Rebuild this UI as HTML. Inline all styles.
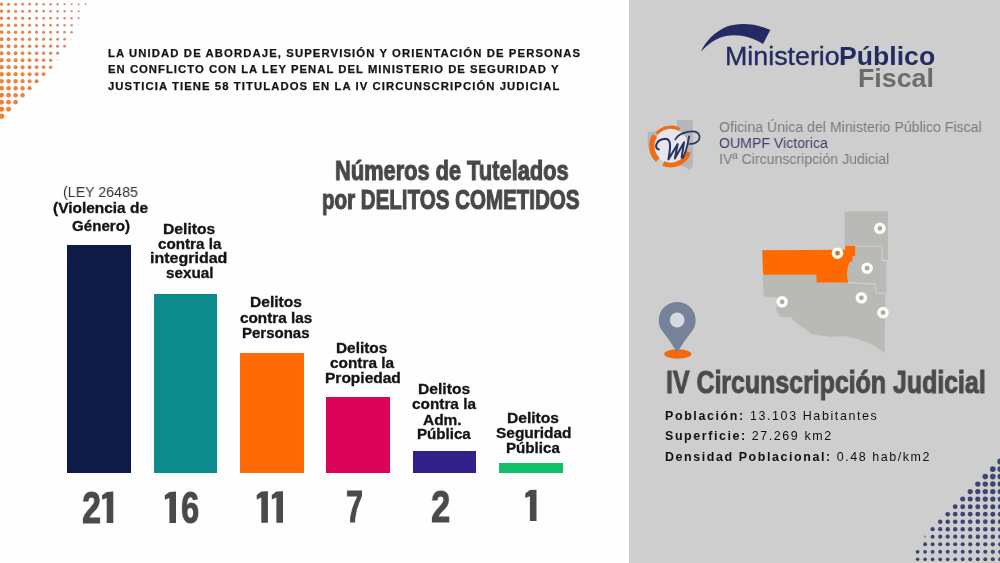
<!DOCTYPE html>
<html lang="es"><head><meta charset="utf-8"><title>Tutelados por delitos cometidos</title>
<style>
html,body{margin:0;padding:0}
body{width:1000px;height:563px;position:relative;overflow:hidden;background:#fefefe;font-family:"Liberation Sans",sans-serif}
.panel{position:absolute;left:628.5px;top:0;width:371.5px;height:563px;background:#cecece}
.bar{position:absolute}
.t{position:absolute;white-space:nowrap;line-height:1;transform-origin:0 0;will-change:transform;font-family:"Liberation Sans",sans-serif}
svg{position:absolute;left:0;top:0}
</style></head><body>
<div class="panel"></div>
<svg width="1000" height="563" viewBox="0 0 1000 563">
<g id="dots-tl">
<circle cx="1.6" cy="4.2" r="1.62" fill="rgb(230, 134, 74)" opacity="1.0"/>
<circle cx="8.6" cy="4.2" r="1.57" fill="rgb(229, 134, 79)" opacity="1.0"/>
<circle cx="15.6" cy="4.2" r="1.51" fill="rgb(227, 135, 84)" opacity="1.0"/>
<circle cx="22.6" cy="4.2" r="1.46" fill="rgb(226, 136, 89)" opacity="1.0"/>
<circle cx="29.6" cy="4.2" r="1.40" fill="rgb(224, 136, 94)" opacity="1.0"/>
<circle cx="36.6" cy="4.2" r="1.34" fill="rgb(223, 137, 98)" opacity="1.0"/>
<circle cx="43.6" cy="4.2" r="1.29" fill="rgb(222, 137, 103)" opacity="1.0"/>
<circle cx="50.6" cy="4.2" r="1.23" fill="rgb(220, 138, 108)" opacity="1.0"/>
<circle cx="57.6" cy="4.2" r="1.18" fill="rgb(219, 139, 113)" opacity="1.0"/>
<circle cx="64.6" cy="4.2" r="1.12" fill="rgb(217, 139, 118)" opacity="1.0"/>
<circle cx="71.6" cy="4.2" r="1.06" fill="rgb(216, 140, 122)" opacity="1.0"/>
<circle cx="78.6" cy="4.2" r="1.01" fill="rgb(216, 140, 122)" opacity="1.0"/>
<circle cx="85.6" cy="4.2" r="0.95" fill="rgb(216, 140, 122)" opacity="1.0"/>
<circle cx="1.6" cy="11.2" r="1.68" fill="rgb(231, 133, 73)" opacity="1.0"/>
<circle cx="8.6" cy="11.2" r="1.63" fill="rgb(229, 134, 77)" opacity="1.0"/>
<circle cx="15.6" cy="11.2" r="1.57" fill="rgb(228, 135, 82)" opacity="1.0"/>
<circle cx="22.6" cy="11.2" r="1.52" fill="rgb(226, 135, 87)" opacity="1.0"/>
<circle cx="29.6" cy="11.2" r="1.46" fill="rgb(225, 136, 92)" opacity="1.0"/>
<circle cx="36.6" cy="11.2" r="1.40" fill="rgb(223, 137, 97)" opacity="1.0"/>
<circle cx="43.6" cy="11.2" r="1.35" fill="rgb(222, 137, 102)" opacity="1.0"/>
<circle cx="50.6" cy="11.2" r="1.29" fill="rgb(221, 138, 107)" opacity="1.0"/>
<circle cx="57.6" cy="11.2" r="1.24" fill="rgb(219, 139, 112)" opacity="1.0"/>
<circle cx="64.6" cy="11.2" r="1.18" fill="rgb(218, 139, 116)" opacity="1.0"/>
<circle cx="71.6" cy="11.2" r="1.12" fill="rgb(216, 140, 121)" opacity="1.0"/>
<circle cx="78.6" cy="11.2" r="1.07" fill="rgb(216, 140, 122)" opacity="1.0"/>
<circle cx="85.6" cy="11.2" r="0.56" fill="rgb(216, 140, 122)" opacity="0.35"/>
<circle cx="1.6" cy="18.2" r="1.74" fill="rgb(231, 133, 71)" opacity="1.0"/>
<circle cx="8.6" cy="18.2" r="1.69" fill="rgb(230, 134, 76)" opacity="1.0"/>
<circle cx="15.6" cy="18.2" r="1.63" fill="rgb(228, 134, 81)" opacity="1.0"/>
<circle cx="22.6" cy="18.2" r="1.58" fill="rgb(227, 135, 86)" opacity="1.0"/>
<circle cx="29.6" cy="18.2" r="1.52" fill="rgb(225, 136, 90)" opacity="1.0"/>
<circle cx="36.6" cy="18.2" r="1.46" fill="rgb(224, 136, 95)" opacity="1.0"/>
<circle cx="43.6" cy="18.2" r="1.41" fill="rgb(222, 137, 100)" opacity="1.0"/>
<circle cx="50.6" cy="18.2" r="1.35" fill="rgb(221, 138, 105)" opacity="1.0"/>
<circle cx="57.6" cy="18.2" r="1.30" fill="rgb(220, 138, 110)" opacity="1.0"/>
<circle cx="64.6" cy="18.2" r="1.24" fill="rgb(218, 139, 115)" opacity="1.0"/>
<circle cx="71.6" cy="18.2" r="1.18" fill="rgb(217, 140, 120)" opacity="1.0"/>
<circle cx="78.6" cy="18.2" r="1.13" fill="rgb(216, 140, 122)" opacity="1.0"/>
<circle cx="1.6" cy="25.2" r="1.80" fill="rgb(232, 133, 69)" opacity="1.0"/>
<circle cx="8.6" cy="25.2" r="1.75" fill="rgb(230, 134, 74)" opacity="1.0"/>
<circle cx="15.6" cy="25.2" r="1.69" fill="rgb(229, 134, 79)" opacity="1.0"/>
<circle cx="22.6" cy="25.2" r="1.64" fill="rgb(227, 135, 84)" opacity="1.0"/>
<circle cx="29.6" cy="25.2" r="1.58" fill="rgb(226, 136, 89)" opacity="1.0"/>
<circle cx="36.6" cy="25.2" r="1.52" fill="rgb(224, 136, 94)" opacity="1.0"/>
<circle cx="43.6" cy="25.2" r="1.47" fill="rgb(223, 137, 99)" opacity="1.0"/>
<circle cx="50.6" cy="25.2" r="1.41" fill="rgb(221, 138, 104)" opacity="1.0"/>
<circle cx="57.6" cy="25.2" r="1.36" fill="rgb(220, 138, 108)" opacity="1.0"/>
<circle cx="64.6" cy="25.2" r="1.30" fill="rgb(219, 139, 113)" opacity="1.0"/>
<circle cx="71.6" cy="25.2" r="1.24" fill="rgb(217, 139, 118)" opacity="1.0"/>
<circle cx="78.6" cy="25.2" r="0.65" fill="rgb(216, 140, 122)" opacity="0.35"/>
<circle cx="1.6" cy="32.2" r="1.86" fill="rgb(232, 133, 68)" opacity="1.0"/>
<circle cx="8.6" cy="32.2" r="1.81" fill="rgb(231, 133, 73)" opacity="1.0"/>
<circle cx="15.6" cy="32.2" r="1.75" fill="rgb(229, 134, 78)" opacity="1.0"/>
<circle cx="22.6" cy="32.2" r="1.70" fill="rgb(228, 135, 82)" opacity="1.0"/>
<circle cx="29.6" cy="32.2" r="1.64" fill="rgb(226, 135, 87)" opacity="1.0"/>
<circle cx="36.6" cy="32.2" r="1.58" fill="rgb(225, 136, 92)" opacity="1.0"/>
<circle cx="43.6" cy="32.2" r="1.53" fill="rgb(223, 137, 97)" opacity="1.0"/>
<circle cx="50.6" cy="32.2" r="1.47" fill="rgb(222, 137, 102)" opacity="1.0"/>
<circle cx="57.6" cy="32.2" r="1.42" fill="rgb(221, 138, 107)" opacity="1.0"/>
<circle cx="64.6" cy="32.2" r="1.36" fill="rgb(219, 139, 112)" opacity="1.0"/>
<circle cx="71.6" cy="32.2" r="1.30" fill="rgb(218, 139, 117)" opacity="1.0"/>
<circle cx="1.6" cy="39.2" r="1.93" fill="rgb(233, 132, 66)" opacity="1.0"/>
<circle cx="8.6" cy="39.2" r="1.87" fill="rgb(231, 133, 71)" opacity="1.0"/>
<circle cx="15.6" cy="39.2" r="1.81" fill="rgb(230, 134, 76)" opacity="1.0"/>
<circle cx="22.6" cy="39.2" r="1.76" fill="rgb(228, 134, 81)" opacity="1.0"/>
<circle cx="29.6" cy="39.2" r="1.70" fill="rgb(227, 135, 86)" opacity="1.0"/>
<circle cx="36.6" cy="39.2" r="1.65" fill="rgb(225, 136, 91)" opacity="1.0"/>
<circle cx="43.6" cy="39.2" r="1.59" fill="rgb(224, 136, 96)" opacity="1.0"/>
<circle cx="50.6" cy="39.2" r="1.53" fill="rgb(222, 137, 100)" opacity="1.0"/>
<circle cx="57.6" cy="39.2" r="1.48" fill="rgb(221, 138, 105)" opacity="1.0"/>
<circle cx="64.6" cy="39.2" r="1.42" fill="rgb(220, 138, 110)" opacity="1.0"/>
<circle cx="71.6" cy="39.2" r="0.75" fill="rgb(218, 139, 115)" opacity="0.35"/>
<circle cx="1.6" cy="46.2" r="1.99" fill="rgb(233, 132, 65)" opacity="1.0"/>
<circle cx="8.6" cy="46.2" r="1.93" fill="rgb(232, 133, 70)" opacity="1.0"/>
<circle cx="15.6" cy="46.2" r="1.87" fill="rgb(230, 134, 74)" opacity="1.0"/>
<circle cx="22.6" cy="46.2" r="1.82" fill="rgb(229, 134, 79)" opacity="1.0"/>
<circle cx="29.6" cy="46.2" r="1.76" fill="rgb(227, 135, 84)" opacity="1.0"/>
<circle cx="36.6" cy="46.2" r="1.71" fill="rgb(226, 136, 89)" opacity="1.0"/>
<circle cx="43.6" cy="46.2" r="1.65" fill="rgb(224, 136, 94)" opacity="1.0"/>
<circle cx="50.6" cy="46.2" r="1.59" fill="rgb(223, 137, 99)" opacity="1.0"/>
<circle cx="57.6" cy="46.2" r="1.54" fill="rgb(221, 138, 104)" opacity="1.0"/>
<circle cx="64.6" cy="46.2" r="1.48" fill="rgb(220, 138, 109)" opacity="1.0"/>
<circle cx="1.6" cy="53.2" r="2.05" fill="rgb(234, 132, 63)" opacity="1.0"/>
<circle cx="8.6" cy="53.2" r="1.99" fill="rgb(232, 133, 68)" opacity="1.0"/>
<circle cx="15.6" cy="53.2" r="1.93" fill="rgb(231, 133, 73)" opacity="1.0"/>
<circle cx="22.6" cy="53.2" r="1.88" fill="rgb(229, 134, 78)" opacity="1.0"/>
<circle cx="29.6" cy="53.2" r="1.82" fill="rgb(228, 135, 83)" opacity="1.0"/>
<circle cx="36.6" cy="53.2" r="1.77" fill="rgb(226, 135, 88)" opacity="1.0"/>
<circle cx="43.6" cy="53.2" r="1.71" fill="rgb(225, 136, 92)" opacity="1.0"/>
<circle cx="50.6" cy="53.2" r="1.65" fill="rgb(223, 137, 97)" opacity="1.0"/>
<circle cx="57.6" cy="53.2" r="1.60" fill="rgb(222, 137, 102)" opacity="1.0"/>
<circle cx="1.6" cy="60.2" r="2.11" fill="rgb(234, 132, 62)" opacity="1.0"/>
<circle cx="8.6" cy="60.2" r="2.05" fill="rgb(233, 132, 66)" opacity="1.0"/>
<circle cx="15.6" cy="60.2" r="1.99" fill="rgb(231, 133, 71)" opacity="1.0"/>
<circle cx="22.6" cy="60.2" r="1.94" fill="rgb(230, 134, 76)" opacity="1.0"/>
<circle cx="29.6" cy="60.2" r="1.88" fill="rgb(228, 134, 81)" opacity="1.0"/>
<circle cx="36.6" cy="60.2" r="1.83" fill="rgb(227, 135, 86)" opacity="1.0"/>
<circle cx="43.6" cy="60.2" r="1.77" fill="rgb(225, 136, 91)" opacity="1.0"/>
<circle cx="50.6" cy="60.2" r="1.71" fill="rgb(224, 136, 96)" opacity="1.0"/>
<circle cx="57.6" cy="60.2" r="0.91" fill="rgb(222, 137, 101)" opacity="0.35"/>
<circle cx="1.6" cy="67.2" r="2.17" fill="rgb(234, 132, 60)" opacity="1.0"/>
<circle cx="8.6" cy="67.2" r="2.11" fill="rgb(233, 132, 65)" opacity="1.0"/>
<circle cx="15.6" cy="67.2" r="2.05" fill="rgb(232, 133, 70)" opacity="1.0"/>
<circle cx="22.6" cy="67.2" r="2.00" fill="rgb(230, 134, 75)" opacity="1.0"/>
<circle cx="29.6" cy="67.2" r="1.94" fill="rgb(229, 134, 80)" opacity="1.0"/>
<circle cx="36.6" cy="67.2" r="1.89" fill="rgb(227, 135, 84)" opacity="1.0"/>
<circle cx="43.6" cy="67.2" r="1.83" fill="rgb(226, 136, 89)" opacity="1.0"/>
<circle cx="50.6" cy="67.2" r="1.77" fill="rgb(224, 136, 94)" opacity="1.0"/>
<circle cx="1.6" cy="74.2" r="2.23" fill="rgb(235, 131, 58)" opacity="1.0"/>
<circle cx="8.6" cy="74.2" r="2.17" fill="rgb(233, 132, 63)" opacity="1.0"/>
<circle cx="15.6" cy="74.2" r="2.11" fill="rgb(232, 133, 68)" opacity="1.0"/>
<circle cx="22.6" cy="74.2" r="2.06" fill="rgb(231, 133, 73)" opacity="1.0"/>
<circle cx="29.6" cy="74.2" r="2.00" fill="rgb(229, 134, 78)" opacity="1.0"/>
<circle cx="36.6" cy="74.2" r="1.95" fill="rgb(228, 135, 83)" opacity="1.0"/>
<circle cx="43.6" cy="74.2" r="1.89" fill="rgb(226, 135, 88)" opacity="1.0"/>
<circle cx="1.6" cy="81.2" r="2.29" fill="rgb(235, 131, 57)" opacity="1.0"/>
<circle cx="8.6" cy="81.2" r="2.23" fill="rgb(234, 132, 62)" opacity="1.0"/>
<circle cx="15.6" cy="81.2" r="2.18" fill="rgb(232, 133, 67)" opacity="1.0"/>
<circle cx="22.6" cy="81.2" r="2.12" fill="rgb(231, 133, 72)" opacity="1.0"/>
<circle cx="29.6" cy="81.2" r="2.06" fill="rgb(230, 134, 76)" opacity="1.0"/>
<circle cx="36.6" cy="81.2" r="2.01" fill="rgb(228, 134, 81)" opacity="1.0"/>
<circle cx="1.6" cy="88.2" r="2.35" fill="rgb(236, 131, 55)" opacity="1.0"/>
<circle cx="8.6" cy="88.2" r="2.29" fill="rgb(234, 132, 60)" opacity="1.0"/>
<circle cx="15.6" cy="88.2" r="2.24" fill="rgb(233, 132, 65)" opacity="1.0"/>
<circle cx="22.6" cy="88.2" r="2.18" fill="rgb(231, 133, 70)" opacity="1.0"/>
<circle cx="29.6" cy="88.2" r="2.12" fill="rgb(230, 134, 75)" opacity="1.0"/>
<circle cx="1.6" cy="95.2" r="2.41" fill="rgb(236, 131, 54)" opacity="1.0"/>
<circle cx="8.6" cy="95.2" r="2.35" fill="rgb(235, 131, 59)" opacity="1.0"/>
<circle cx="15.6" cy="95.2" r="2.30" fill="rgb(233, 132, 64)" opacity="1.0"/>
<circle cx="22.6" cy="95.2" r="2.24" fill="rgb(232, 133, 68)" opacity="1.0"/>
<circle cx="1.6" cy="102.2" r="2.47" fill="rgb(237, 131, 52)" opacity="1.0"/>
<circle cx="8.6" cy="102.2" r="2.41" fill="rgb(235, 131, 57)" opacity="1.0"/>
<circle cx="15.6" cy="102.2" r="2.36" fill="rgb(234, 132, 62)" opacity="1.0"/>
<circle cx="1.6" cy="109.2" r="2.53" fill="rgb(237, 130, 51)" opacity="1.0"/>
<circle cx="8.6" cy="109.2" r="2.47" fill="rgb(236, 131, 56)" opacity="1.0"/>
<circle cx="1.6" cy="116.2" r="2.59" fill="rgb(238, 130, 49)" opacity="1.0"/>
</g>
<g id="dots-br">
<circle cx="917.6" cy="566.8" r="1.73" fill="#3d4474" opacity="1"/>
<circle cx="925.1" cy="566.8" r="1.76" fill="#3d4474" opacity="1"/>
<circle cx="932.6" cy="566.8" r="1.78" fill="#3d4474" opacity="1"/>
<circle cx="940.2" cy="566.8" r="1.80" fill="#3d4474" opacity="1"/>
<circle cx="947.7" cy="566.8" r="1.82" fill="#3d4474" opacity="1"/>
<circle cx="955.2" cy="566.8" r="1.84" fill="#3d4474" opacity="1"/>
<circle cx="962.7" cy="566.8" r="1.86" fill="#3d4474" opacity="1"/>
<circle cx="970.2" cy="566.8" r="1.88" fill="#3d4474" opacity="1"/>
<circle cx="977.8" cy="566.8" r="1.90" fill="#3d4474" opacity="1"/>
<circle cx="985.3" cy="566.8" r="1.92" fill="#3d4474" opacity="1"/>
<circle cx="992.8" cy="566.8" r="1.94" fill="#3d4474" opacity="1"/>
<circle cx="1000.3" cy="566.8" r="1.96" fill="#3d4474" opacity="1"/>
<circle cx="917.6" cy="559.3" r="1.81" fill="#3d4474" opacity="1"/>
<circle cx="925.1" cy="559.3" r="1.83" fill="#3d4474" opacity="1"/>
<circle cx="932.6" cy="559.3" r="1.85" fill="#3d4474" opacity="1"/>
<circle cx="940.2" cy="559.3" r="1.87" fill="#3d4474" opacity="1"/>
<circle cx="947.7" cy="559.3" r="1.89" fill="#3d4474" opacity="1"/>
<circle cx="955.2" cy="559.3" r="1.91" fill="#3d4474" opacity="1"/>
<circle cx="962.7" cy="559.3" r="1.93" fill="#3d4474" opacity="1"/>
<circle cx="970.2" cy="559.3" r="1.95" fill="#3d4474" opacity="1"/>
<circle cx="977.8" cy="559.3" r="1.97" fill="#3d4474" opacity="1"/>
<circle cx="985.3" cy="559.3" r="1.99" fill="#3d4474" opacity="1"/>
<circle cx="992.8" cy="559.3" r="2.02" fill="#3d4474" opacity="1"/>
<circle cx="1000.3" cy="559.3" r="2.04" fill="#3d4474" opacity="1"/>
<circle cx="917.6" cy="551.8" r="1.88" fill="#3d4474" opacity="1"/>
<circle cx="925.1" cy="551.8" r="1.90" fill="#3d4474" opacity="1"/>
<circle cx="932.6" cy="551.8" r="1.92" fill="#3d4474" opacity="1"/>
<circle cx="940.2" cy="551.8" r="1.94" fill="#3d4474" opacity="1"/>
<circle cx="947.7" cy="551.8" r="1.96" fill="#3d4474" opacity="1"/>
<circle cx="955.2" cy="551.8" r="1.98" fill="#3d4474" opacity="1"/>
<circle cx="962.7" cy="551.8" r="2.00" fill="#3d4474" opacity="1"/>
<circle cx="970.2" cy="551.8" r="2.02" fill="#3d4474" opacity="1"/>
<circle cx="977.8" cy="551.8" r="2.04" fill="#3d4474" opacity="1"/>
<circle cx="985.3" cy="551.8" r="2.07" fill="#3d4474" opacity="1"/>
<circle cx="992.8" cy="551.8" r="2.09" fill="#3d4474" opacity="1"/>
<circle cx="1000.3" cy="551.8" r="2.11" fill="#3d4474" opacity="1"/>
<circle cx="925.1" cy="544.3" r="1.97" fill="#3d4474" opacity="1"/>
<circle cx="932.6" cy="544.3" r="1.99" fill="#3d4474" opacity="1"/>
<circle cx="940.2" cy="544.3" r="2.01" fill="#3d4474" opacity="1"/>
<circle cx="947.7" cy="544.3" r="2.03" fill="#3d4474" opacity="1"/>
<circle cx="955.2" cy="544.3" r="2.05" fill="#3d4474" opacity="1"/>
<circle cx="962.7" cy="544.3" r="2.07" fill="#3d4474" opacity="1"/>
<circle cx="970.2" cy="544.3" r="2.10" fill="#3d4474" opacity="1"/>
<circle cx="977.8" cy="544.3" r="2.12" fill="#3d4474" opacity="1"/>
<circle cx="985.3" cy="544.3" r="2.14" fill="#3d4474" opacity="1"/>
<circle cx="992.8" cy="544.3" r="2.16" fill="#3d4474" opacity="1"/>
<circle cx="1000.3" cy="544.3" r="2.18" fill="#3d4474" opacity="1"/>
<circle cx="925.1" cy="536.7" r="1.12" fill="#3d4474" opacity="0.5"/>
<circle cx="932.6" cy="536.7" r="2.06" fill="#3d4474" opacity="1"/>
<circle cx="940.2" cy="536.7" r="2.08" fill="#3d4474" opacity="1"/>
<circle cx="947.7" cy="536.7" r="2.10" fill="#3d4474" opacity="1"/>
<circle cx="955.2" cy="536.7" r="2.13" fill="#3d4474" opacity="1"/>
<circle cx="962.7" cy="536.7" r="2.15" fill="#3d4474" opacity="1"/>
<circle cx="970.2" cy="536.7" r="2.17" fill="#3d4474" opacity="1"/>
<circle cx="977.8" cy="536.7" r="2.19" fill="#3d4474" opacity="1"/>
<circle cx="985.3" cy="536.7" r="2.21" fill="#3d4474" opacity="1"/>
<circle cx="992.8" cy="536.7" r="2.23" fill="#3d4474" opacity="1"/>
<circle cx="1000.3" cy="536.7" r="2.25" fill="#3d4474" opacity="1"/>
<circle cx="932.6" cy="529.2" r="2.13" fill="#3d4474" opacity="1"/>
<circle cx="940.2" cy="529.2" r="2.15" fill="#3d4474" opacity="1"/>
<circle cx="947.7" cy="529.2" r="2.18" fill="#3d4474" opacity="1"/>
<circle cx="955.2" cy="529.2" r="2.20" fill="#3d4474" opacity="1"/>
<circle cx="962.7" cy="529.2" r="2.22" fill="#3d4474" opacity="1"/>
<circle cx="970.2" cy="529.2" r="2.24" fill="#3d4474" opacity="1"/>
<circle cx="977.8" cy="529.2" r="2.26" fill="#3d4474" opacity="1"/>
<circle cx="985.3" cy="529.2" r="2.28" fill="#3d4474" opacity="1"/>
<circle cx="992.8" cy="529.2" r="2.30" fill="#3d4474" opacity="1"/>
<circle cx="1000.3" cy="529.2" r="2.32" fill="#3d4474" opacity="1"/>
<circle cx="940.2" cy="521.7" r="2.23" fill="#3d4474" opacity="1"/>
<circle cx="947.7" cy="521.7" r="2.25" fill="#3d4474" opacity="1"/>
<circle cx="955.2" cy="521.7" r="2.27" fill="#3d4474" opacity="1"/>
<circle cx="962.7" cy="521.7" r="2.29" fill="#3d4474" opacity="1"/>
<circle cx="970.2" cy="521.7" r="2.31" fill="#3d4474" opacity="1"/>
<circle cx="977.8" cy="521.7" r="2.33" fill="#3d4474" opacity="1"/>
<circle cx="985.3" cy="521.7" r="2.35" fill="#3d4474" opacity="1"/>
<circle cx="992.8" cy="521.7" r="2.37" fill="#3d4474" opacity="1"/>
<circle cx="1000.3" cy="521.7" r="2.39" fill="#3d4474" opacity="1"/>
<circle cx="947.7" cy="514.2" r="2.32" fill="#3d4474" opacity="1"/>
<circle cx="955.2" cy="514.2" r="2.34" fill="#3d4474" opacity="1"/>
<circle cx="962.7" cy="514.2" r="2.36" fill="#3d4474" opacity="1"/>
<circle cx="970.2" cy="514.2" r="2.38" fill="#3d4474" opacity="1"/>
<circle cx="977.8" cy="514.2" r="2.40" fill="#3d4474" opacity="1"/>
<circle cx="985.3" cy="514.2" r="2.42" fill="#3d4474" opacity="1"/>
<circle cx="992.8" cy="514.2" r="2.44" fill="#3d4474" opacity="1"/>
<circle cx="1000.3" cy="514.2" r="2.46" fill="#3d4474" opacity="1"/>
<circle cx="955.2" cy="506.7" r="2.41" fill="#3d4474" opacity="1"/>
<circle cx="962.7" cy="506.7" r="2.43" fill="#3d4474" opacity="1"/>
<circle cx="970.2" cy="506.7" r="2.45" fill="#3d4474" opacity="1"/>
<circle cx="977.8" cy="506.7" r="2.47" fill="#3d4474" opacity="1"/>
<circle cx="985.3" cy="506.7" r="2.49" fill="#3d4474" opacity="1"/>
<circle cx="992.8" cy="506.7" r="2.52" fill="#3d4474" opacity="1"/>
<circle cx="1000.3" cy="506.7" r="2.54" fill="#3d4474" opacity="1"/>
<circle cx="962.7" cy="499.1" r="2.50" fill="#3d4474" opacity="1"/>
<circle cx="970.2" cy="499.1" r="2.52" fill="#3d4474" opacity="1"/>
<circle cx="977.8" cy="499.1" r="2.54" fill="#3d4474" opacity="1"/>
<circle cx="985.3" cy="499.1" r="2.57" fill="#3d4474" opacity="1"/>
<circle cx="992.8" cy="499.1" r="2.59" fill="#3d4474" opacity="1"/>
<circle cx="1000.3" cy="499.1" r="2.61" fill="#3d4474" opacity="1"/>
<circle cx="970.2" cy="491.6" r="2.60" fill="#3d4474" opacity="1"/>
<circle cx="977.8" cy="491.6" r="2.62" fill="#3d4474" opacity="1"/>
<circle cx="985.3" cy="491.6" r="2.64" fill="#3d4474" opacity="1"/>
<circle cx="992.8" cy="491.6" r="2.66" fill="#3d4474" opacity="1"/>
<circle cx="1000.3" cy="491.6" r="2.68" fill="#3d4474" opacity="1"/>
<circle cx="977.8" cy="484.1" r="2.69" fill="#3d4474" opacity="1"/>
<circle cx="985.3" cy="484.1" r="2.71" fill="#3d4474" opacity="1"/>
<circle cx="992.8" cy="484.1" r="2.73" fill="#3d4474" opacity="1"/>
<circle cx="1000.3" cy="484.1" r="2.75" fill="#3d4474" opacity="1"/>
<circle cx="985.3" cy="476.6" r="2.78" fill="#3d4474" opacity="1"/>
<circle cx="992.8" cy="476.6" r="2.80" fill="#3d4474" opacity="1"/>
<circle cx="1000.3" cy="476.6" r="2.82" fill="#3d4474" opacity="1"/>
<circle cx="992.8" cy="469.1" r="2.87" fill="#3d4474" opacity="1"/>
<circle cx="1000.3" cy="469.1" r="2.89" fill="#3d4474" opacity="1"/>
<circle cx="1000.3" cy="461.5" r="2.96" fill="#3d4474" opacity="1"/>
</g>
<g id="logo"><path d="M701,51.8 C705,42 714,32 727,26.5 C738,22.5 756,23 770.3,30 L763,44 C752,37 738,33.5 726,36 C715,38.5 707,45 701,51.8 Z" fill="#242b62"/></g>
<g id="oumpf"><polygon points="676.9,120.0 692.8,120.0 692.8,165.4 690.0,170.5 685.5,167.1 678.6,165.4 668.4,163.7 660.5,159.7 653.6,156.3 650.2,150.6 647.7,146.1 647.7,131.5 676.9,131.5" fill="#b4b6ba"/><circle cx="670.7" cy="146.1" r="17.2" fill="#e6e6ec"/><path d="M688.66,151.93 A18.9,18.9 0 0 1 663.30,163.49" fill="none" stroke="#f26d12" stroke-width="4.8"/><path d="M657.79,159.91 A18.9,18.9 0 0 1 655.01,135.52" fill="none" stroke="#f26d12" stroke-width="5.4"/><path d="M656.64,133.44 A18.9,18.9 0 0 1 679.55,129.40" fill="none" stroke="#f26d12" stroke-width="3.2"/><path d="M658.8,149.5 C653.6,148.4 655.9,139.3 665.6,138.8 C672.4,139.3 669.8,150.6 668.4,159.5 L677.7,144.0 L674.8,158.6 L684.1,142.2 L681.6,157.5" fill="none" stroke="#2b3260" stroke-linecap="round" stroke-linejoin="round" stroke-width="2.0"/><path d="M689.1,136.4 C687.5,146.1 686.0,152.9 682.7,158.0" fill="none" stroke="#2b3260" stroke-linecap="round" stroke-linejoin="round" stroke-width="1.9"/><path d="M675.2,139.5 C678.6,132.5 697.4,127.3 699.5,136.1 C700.0,141.8 694.5,144.0 689.5,144.0" fill="none" stroke="#2b3260" stroke-linecap="round" stroke-linejoin="round" stroke-width="1.7"/></g>
<g id="map"><polygon points="844.6,211.4 887.9,211.4 887.9,261.1 886.4,261.1 886.4,293.8 885.3,293.8 884.5,353.1 876.5,347.0 866.9,342.2 857.3,338.7 844.5,336.0 834.9,336.8 828.5,337.1 823.7,335.7 810.1,333.9 808.5,331.5 795.0,321.9 791.0,317.3 780.6,317.0 776.6,310.8 776.6,297.5 763.8,296.4 762.7,278.2 762.7,250.0 844.6,250.0" fill="#b9b9b5"/><polyline points="855.2,246.1 882.2,246.1 882.2,260.3 887.9,260.8" fill="none" stroke="#cdcdc9" stroke-width="1.4"/><polyline points="848.0,282.5 875.3,284.2 875.9,292.7 886.4,293.5" fill="none" stroke="#cdcdc9" stroke-width="1.4"/><polyline points="844.6,250.0 844.6,246.1" fill="none" stroke="#cdcdc9" stroke-width="1.4"/><polygon points="762.2,250.3 845.2,249.8 845.2,246.1 855.2,246.1 855.2,255.4 852.6,256.3 852.6,261.1 849.8,262.0 848.0,266.0 846.9,273.9 848.0,282.5 816.8,282.5 816.2,274.8 763.3,274.8" fill="#ff6a00"/><circle cx="879.9" cy="228.4" r="4.1" fill="#a9a9a4" stroke="#fdfdf8" stroke-width="3.4"/><circle cx="837.5" cy="253.2" r="4.1" fill="#c07a3a" stroke="#fdfdf8" stroke-width="3.4"/><circle cx="867.1" cy="268.2" r="4.1" fill="#a9a9a4" stroke="#fdfdf8" stroke-width="3.4"/><circle cx="861.4" cy="297.8" r="4.1" fill="#a9a9a4" stroke="#fdfdf8" stroke-width="3.4"/><circle cx="782.1" cy="301.8" r="4.1" fill="#a9a9a4" stroke="#fdfdf8" stroke-width="3.4"/><circle cx="883.0" cy="312.6" r="4.1" fill="#a9a9a4" stroke="#fdfdf8" stroke-width="3.4"/></g>
<g id="pin"><ellipse cx="677.8" cy="354" rx="13.7" ry="4.7" fill="#f26a10"/><path d="M677.2,352.5 Q670.55,341.16 662.10,330.81 A18.4,18.4 0 1 1 692.30,330.81 Q683.85,341.16 677.2,352.5 Z" fill="#74829a"/><circle cx="677.2" cy="320.0" r="7.4" fill="#d6d8df"/></g>
<g id="ones"><polygon points="106.7,491.9 113.3,491.6 113.3,523.1 106.7,523.1 106.7,498.0 102.1,499.8 102.1,495.3" fill="#4a4a4a"/><polygon points="169.4,491.9 176.0,491.6 176.0,523.1 169.4,523.1 169.4,498.0 164.8,499.8 164.8,495.3" fill="#4a4a4a"/><polygon points="261.3,491.5 267.9,491.2 267.9,522.7 261.3,522.7 261.3,497.6 256.7,499.4 256.7,494.9" fill="#4a4a4a"/><polygon points="276.4,491.5 283.0,491.2 283.0,522.7 276.4,522.7 276.4,497.6 271.8,499.4 271.8,494.9" fill="#4a4a4a"/><polygon points="529.9,490.1 536.5,489.8 536.5,521.0 529.9,521.0 529.9,496.2 525.3,498.0 525.3,493.5" fill="#4a4a4a"/></g>
</svg>
<div class="bar" style="left:67.2px;width:63.7px;top:244.6px;height:228.7px;background:#0e1b47"></div>
<div class="bar" style="left:153.5px;width:63.8px;top:293.6px;height:179.7px;background:#0d8a8c"></div>
<div class="bar" style="left:240px;width:64px;top:352.8px;height:120.5px;background:#ff6a06"></div>
<div class="bar" style="left:326.2px;width:64.0px;top:397.4px;height:75.9px;background:#dc0458"></div>
<div class="bar" style="left:412.6px;width:63.4px;top:451.2px;height:22.1px;background:#33208a"></div>
<div class="bar" style="left:499.0px;width:64.0px;top:462.9px;height:10.4px;background:#0fbf6a"></div>
<div class="t" style="left:108.0px;top:47.99px;font-size:11.3px;font-weight:700;color:#141416;letter-spacing:1.102px;-webkit-text-stroke:0.25px #141416;">LA UNIDAD DE ABORDAJE, SUPERVISIÓN Y ORIENTACIÓN DE PERSONAS</div>
<div class="t" style="left:108.0px;top:64.49px;font-size:11.3px;font-weight:700;color:#141416;letter-spacing:1.017px;-webkit-text-stroke:0.25px #141416;">EN CONFLICTO CON LA LEY PENAL DEL MINISTERIO DE SEGURIDAD Y</div>
<div class="t" style="left:108.0px;top:80.99px;font-size:11.3px;font-weight:700;color:#141416;letter-spacing:1.083px;-webkit-text-stroke:0.25px #141416;">JUSTICIA TIENE 58 TITULADOS EN LA IV CIRCUNSCRIPCIÓN JUDICIAL</div>
<div class="t" style="left:334.73px;top:156.38px;font-size:28.26px;font-weight:700;color:#484848;transform:scaleX(0.7724);-webkit-text-stroke:1.1px #484848;">Números de Tutelados</div>
<div class="t" style="left:322.27px;top:185.38px;font-size:28.26px;font-weight:700;color:#484848;transform:scaleX(0.7272);-webkit-text-stroke:1.1px #484848;">por DELITOS COMETIDOS</div>
<div class="t" style="left:62.82px;top:184.98px;font-size:14.49px;font-weight:400;color:#333;transform:scaleX(0.9813);">(LEY 26485</div>
<div class="t" style="left:53.3px;top:202.48px;font-size:13.91px;font-weight:700;color:#141414;transform:scaleX(1.1106);-webkit-text-stroke:0.3px #141414;">(Violencia de</div>
<div class="t" style="left:71.7px;top:219.68px;font-size:13.91px;font-weight:700;color:#141414;transform:scaleX(1.0868);-webkit-text-stroke:0.3px #141414;">Género)</div>
<div class="t" style="left:163.47px;top:222.68px;font-size:13.91px;font-weight:700;color:#141414;transform:scaleX(1.1267);-webkit-text-stroke:0.3px #141414;">Delitos</div>
<div class="t" style="left:158.0px;top:237.58px;font-size:13.91px;font-weight:700;color:#141414;transform:scaleX(1.0931);-webkit-text-stroke:0.3px #141414;">contra la</div>
<div class="t" style="left:150.15px;top:251.88px;font-size:13.91px;font-weight:700;color:#141414;transform:scaleX(1.1515);-webkit-text-stroke:0.3px #141414;">integridad</div>
<div class="t" style="left:166.0px;top:267.28px;font-size:13.91px;font-weight:700;color:#141414;transform:scaleX(1.0977);-webkit-text-stroke:0.3px #141414;">sexual</div>
<div class="t" style="left:249.88px;top:296.08px;font-size:13.91px;font-weight:700;color:#141414;transform:scaleX(1.12);-webkit-text-stroke:0.3px #141414;">Delitos</div>
<div class="t" style="left:240.0px;top:311.58px;font-size:13.91px;font-weight:700;color:#141414;transform:scaleX(1.1);-webkit-text-stroke:0.3px #141414;">contra las</div>
<div class="t" style="left:242.12px;top:326.68px;font-size:13.91px;font-weight:700;color:#141414;transform:scaleX(1.0787);-webkit-text-stroke:0.3px #141414;">Personas</div>
<div class="t" style="left:336.29px;top:342.08px;font-size:13.91px;font-weight:700;color:#141414;transform:scaleX(1.1067);-webkit-text-stroke:0.3px #141414;">Delitos</div>
<div class="t" style="left:329.8px;top:357.08px;font-size:13.91px;font-weight:700;color:#141414;transform:scaleX(1.1052);-webkit-text-stroke:0.3px #141414;">contra la</div>
<div class="t" style="left:324.68px;top:372.48px;font-size:13.91px;font-weight:700;color:#141414;transform:scaleX(1.1152);-webkit-text-stroke:0.3px #141414;">Propiedad</div>
<div class="t" style="left:417.88px;top:382.68px;font-size:13.91px;font-weight:700;color:#141414;transform:scaleX(1.1244);-webkit-text-stroke:0.3px #141414;">Delitos</div>
<div class="t" style="left:412.0px;top:398.48px;font-size:13.91px;font-weight:700;color:#141414;transform:scaleX(1.1034);-webkit-text-stroke:0.3px #141414;">contra la</div>
<div class="t" style="left:423.2px;top:413.68px;font-size:13.91px;font-weight:700;color:#141414;transform:scaleX(1.1118);-webkit-text-stroke:0.3px #141414;">Adm.</div>
<div class="t" style="left:417.31px;top:428.48px;font-size:13.91px;font-weight:700;color:#141414;transform:scaleX(1.0857);-webkit-text-stroke:0.3px #141414;">Pública</div>
<div class="t" style="left:507.38px;top:412.08px;font-size:13.91px;font-weight:700;color:#141414;transform:scaleX(1.1222);-webkit-text-stroke:0.3px #141414;">Delitos</div>
<div class="t" style="left:496.2px;top:427.48px;font-size:13.91px;font-weight:700;color:#141414;transform:scaleX(1.1104);-webkit-text-stroke:0.3px #141414;">Seguridad</div>
<div class="t" style="left:505.91px;top:441.88px;font-size:13.91px;font-weight:700;color:#141414;transform:scaleX(1.0898);-webkit-text-stroke:0.3px #141414;">Pública</div>
<div class="t" style="left:82.22px;top:485.78px;font-size:43.91px;font-weight:700;color:#4a4a4a;transform:scaleX(0.7773);-webkit-text-stroke:1.0px #4a4a4a;">2</div>
<div class="t" style="left:180.55px;top:485.98px;font-size:43.91px;font-weight:700;color:#4a4a4a;transform:scaleX(0.7478);-webkit-text-stroke:1.0px #4a4a4a;">6</div>
<div class="t" style="left:346.4px;top:485.38px;font-size:43.91px;font-weight:700;color:#4a4a4a;transform:scaleX(0.7);-webkit-text-stroke:1.0px #4a4a4a;">7</div>
<div class="t" style="left:431.01px;top:484.98px;font-size:43.91px;font-weight:700;color:#4a4a4a;transform:scaleX(0.7909);-webkit-text-stroke:1.0px #4a4a4a;">2</div>
<div class="t" style="left:724.58px;top:42.56px;font-size:26.52px;font-weight:400;color:#242b62;transform:scaleX(1.0108);-webkit-text-stroke:0.35px #242b62;">Ministerio</div>
<div class="t" style="left:838.96px;top:42.82px;font-size:26.09px;font-weight:700;color:#242b62;transform:scaleX(1.0209);">Público</div>
<div class="t" style="left:857.55px;top:66.21px;font-size:24.93px;font-weight:700;color:#6b6b6b;transform:scaleX(1.0746);">Fiscal</div>
<div class="t" style="left:718.86px;top:119.19px;font-size:15.07px;font-weight:400;color:#7b7b7b;transform:scaleX(0.9396);">Oficina Única del Ministerio Público Fiscal</div>
<div class="t" style="left:718.86px;top:134.99px;font-size:15.07px;font-weight:400;color:#3f3f70;transform:scaleX(0.9374);">OUMPF Victorica</div>
<div class="t" style="left:718.86px;top:150.89px;font-size:15.07px;font-weight:400;color:#7b7b7b;transform:scaleX(0.9383);">IVª Circunscripción Judicial</div>
<div class="t" style="left:666.21px;top:367.27px;font-size:31.45px;font-weight:700;color:#4b4b4b;transform:scaleX(0.7923);-webkit-text-stroke:1.0px #4b4b4b;">IV Circunscripción Judicial</div>
<div class="t" style="left:665.2px;top:409.51px;font-size:12.46px;font-weight:400;color:#111;letter-spacing:1.615px;"><b>Población:</b> 13.103 Habitantes</div>
<div class="t" style="left:665.2px;top:430.31px;font-size:12.46px;font-weight:400;color:#111;letter-spacing:1.581px;"><b>Superficie:</b> 27.269 km2</div>
<div class="t" style="left:665.2px;top:450.81px;font-size:12.46px;font-weight:400;color:#111;letter-spacing:1.576px;"><b>Densidad Poblacional:</b> 0.48 hab/km2</div>
</body></html>
